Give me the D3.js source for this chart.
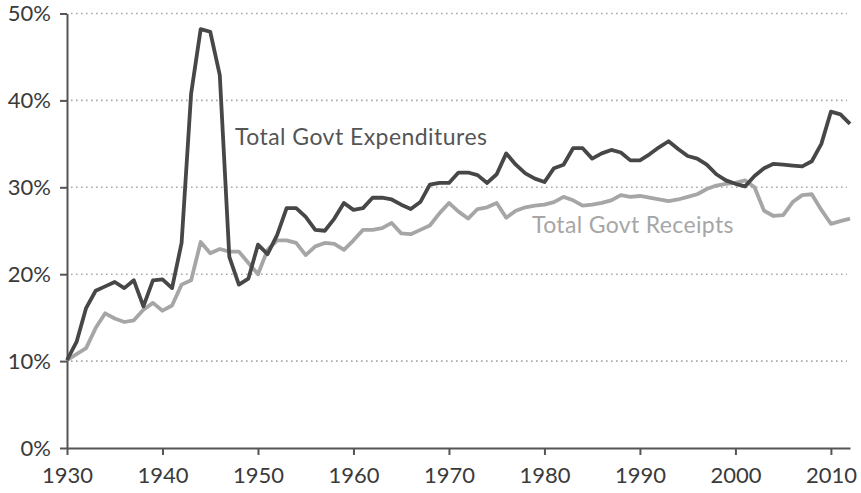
<!DOCTYPE html>
<html>
<head>
<meta charset="utf-8">
<script src="https://cdn.jsdelivr.net/npm/d3@7"></script>
<style>
  body { margin: 0; background: #fff; }
  text { font-family: Lato, "Open Sans", sans-serif; }
</style>
</head>
<body>
<div id="chart"></div>
<script>
"use strict";

// years 1930..2012
const years = d3.range(1930, 2013);

// total government expenditures, % of GDP
const expenditures = [
  10.1, 12.2, 16.1, 18.1, 18.6, 19.1, 18.4, 19.3, 16.3, 19.3,
  19.4, 18.4, 23.6, 40.8, 48.2, 47.9, 42.9, 22.0, 18.8, 19.5,
  23.4, 22.3, 24.5, 27.6, 27.6, 26.6, 25.1, 25.0, 26.4, 28.2,
  27.4, 27.6, 28.8, 28.8, 28.6, 28.0, 27.5, 28.3, 30.3, 30.5,
  30.5, 31.7, 31.7, 31.4, 30.5, 31.5, 33.9, 32.6, 31.6, 31.0,
  30.6, 32.2, 32.6, 34.5, 34.5, 33.3, 33.9, 34.3, 34.0, 33.1,
  33.1, 33.8, 34.6, 35.3, 34.4, 33.6, 33.3, 32.6, 31.5, 30.8,
  30.4, 30.1, 31.3, 32.2, 32.7, 32.6, 32.5, 32.4, 33.0, 35.0,
  38.7, 38.4, 37.3
];

// total government receipts, % of GDP
const receipts = [
  10.1, 10.8, 11.5, 13.8, 15.5, 14.9, 14.5, 14.7, 15.9, 16.7,
  15.8, 16.4, 18.8, 19.3, 23.7, 22.4, 22.9, 22.6, 22.6, 21.3,
  20.0, 22.8, 23.9, 23.9, 23.6, 22.2, 23.2, 23.6, 23.5, 22.8,
  23.9, 25.1, 25.1, 25.3, 25.9, 24.7, 24.6, 25.1, 25.6, 27.0,
  28.2, 27.2, 26.4, 27.5, 27.7, 28.2, 26.5, 27.3, 27.7, 27.9,
  28.0, 28.3, 28.9, 28.5, 27.9, 28.0, 28.2, 28.5, 29.1, 28.9,
  29.0, 28.8, 28.6, 28.4, 28.6, 28.9, 29.2, 29.8, 30.2, 30.4,
  30.5, 30.8, 30.0, 27.3, 26.7, 26.8, 28.3, 29.1, 29.2, 27.4,
  25.8, 26.1, 26.4
];

const xTicks = [1930, 1940, 1950, 1960, 1970, 1980, 1990, 2000, 2010];
const yTicks = [0, 10, 20, 30, 40, 50];

const msm = {
  width: 861,
  height: 493,
  left: 67,
  right: 850,
  top: 13.5,
  bottom: 448
};

const svg = d3.select("#chart")
  .append("svg")
  .attr("width", msm.width)
  .attr("height", msm.height);

const xScale = d3.scaleLinear()
  .domain([1930, 2012])
  .range([msm.left, msm.right]);

const yScale = d3.scaleLinear()
  .domain([0, 50])
  .range([msm.bottom, msm.top]);

// dotted gridlines
svg.append("g")
  .selectAll("line")
  .data(yTicks.filter(d => d > 0))
  .enter()
  .append("line")
    .attr("x1", msm.left + 4)
    .attr("x2", msm.right - 3)
    .attr("y1", d => yScale(d))
    .attr("y2", d => yScale(d))
    .attr("stroke", "#a9a9a9")
    .attr("stroke-width", 1.6)
    .attr("stroke-dasharray", "1.6,3.4");

// axes
const yAxis = svg.append("g")
  .attr("transform", "translate(" + msm.left + ",0)")
  .call(d3.axisLeft(yScale).tickValues(yTicks).tickFormat(d => d + "%").tickSize(7).tickSizeOuter(0).tickPadding(9));

const xAxis = svg.append("g")
  .attr("transform", "translate(0," + msm.bottom + ")")
  .call(d3.axisBottom(xScale).tickValues(xTicks).tickFormat(d3.format("d")).tickSize(7).tickSizeOuter(0).tickPadding(12));

[yAxis, xAxis].forEach(ax => {
  ax.select(".domain").attr("stroke", "#555").attr("stroke-width", 2);
  ax.selectAll(".tick line").attr("stroke", "#555").attr("stroke-width", 2);
  ax.selectAll(".tick text")
    .attr("fill", "#3a3a3a")
    .style("font-size", "22px")
    .style("font-family", "Lato, sans-serif");
});

// lines
const line = d3.line()
  .x((d, i) => xScale(years[i]))
  .y(d => yScale(d));

svg.append("path")
  .datum(receipts)
  .attr("fill", "none")
  .attr("stroke", "#a6a6a6")
  .attr("stroke-width", 3.8)
  .attr("stroke-linejoin", "round")
  .attr("d", line);

svg.append("path")
  .datum(expenditures)
  .attr("fill", "none")
  .attr("stroke", "#474747")
  .attr("stroke-width", 3.8)
  .attr("stroke-linejoin", "round")
  .attr("d", line);

// series labels
svg.append("text")
  .attr("x", 235)
  .attr("y", 145)
  .attr("fill", "#555")
  .style("font-size", "23px")
  .style("letter-spacing", "0.45px")
  .text("Total Govt Expenditures");

svg.append("text")
  .attr("x", 532)
  .attr("y", 233)
  .attr("fill", "#a6a6a6")
  .style("font-size", "23px")
  .style("letter-spacing", "0.35px")
  .text("Total Govt Receipts");
</script>
</body>
</html>
